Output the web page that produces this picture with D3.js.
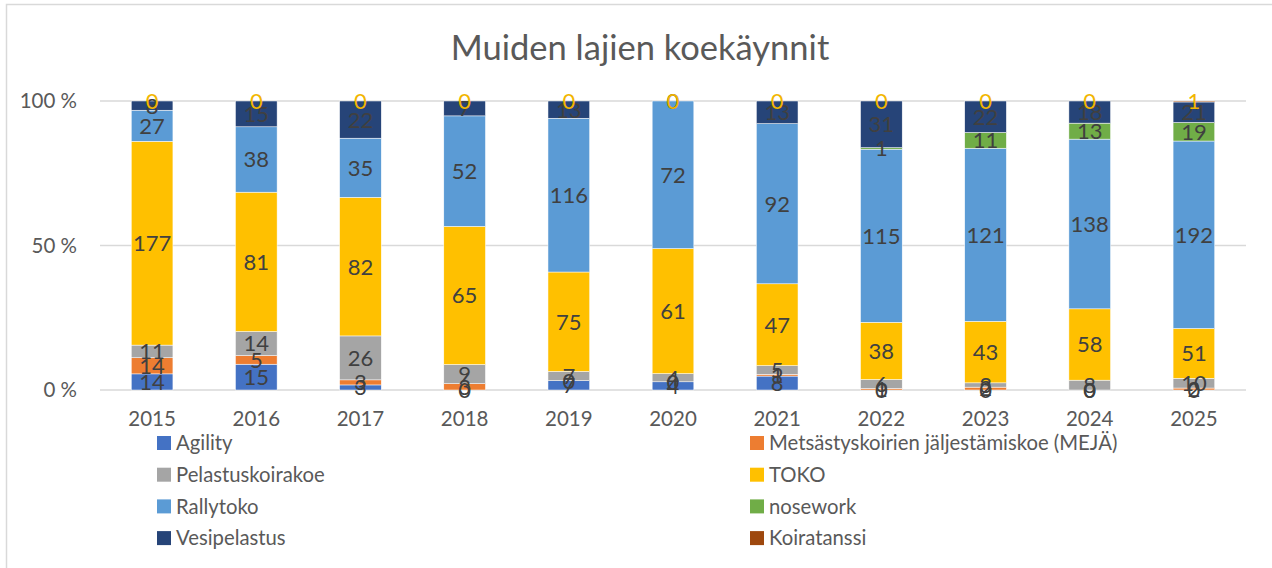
<!DOCTYPE html>
<html>
<head>
<meta charset="utf-8">
<script src="https://cdn.jsdelivr.net/npm/d3@7"></script>
<style>
  body { margin: 0; background: #fff; }
  text { font-family: Lato, "Noto Sans", sans-serif; }
</style>
</head>
<body>
<div id="chart"></div>
<script>
// chart data
var years = ["2015", "2016", "2017", "2018", "2019", "2020", "2021", "2022", "2023", "2024", "2025"];
var seriesNames = ["Agility", "Metsästyskoirien jäljestämiskoe (MEJÄ)", "Pelastuskoirakoe", "TOKO",
                   "Rallytoko", "nosework", "Vesipelastus", "Koiratanssi"];
var agility      = [14, 15, 3, 0, 7, 4, 8, 0, 0, 0, 0];
var meja         = [14, 5, 3, 3, 0, 0, 1, 1, 2, 0, 2];
var pelastus     = [11, 14, 26, 9, 7, 4, 5, 6, 3, 8, 10];
var toko         = [177, 81, 82, 65, 75, 61, 47, 38, 43, 58, 51];
var rallytoko    = [27, 38, 35, 52, 116, 72, 92, 115, 121, 138, 192];
var nosework     = [null, null, null, null, null, null, null, 1, 11, 13, 19];
var vesipelastus = [8, 15, 22, 7, 13, 0, 13, 31, 22, 18, 21];
var koiratanssi  = [0, 0, 0, 0, 0, 0, 0, 0, 0, 0, 1];
var yTicks = [0, 0.5, 1];

var seriesValues = [agility, meja, pelastus, toko, rallytoko, nosework, vesipelastus, koiratanssi];
var colors = ["#4472C4", "#ED7D31", "#A5A5A5", "#FFC000", "#5B9BD5", "#70AD47", "#264478", "#9E480E"];

var svgWidth = 1272;
var svgHeight = 568;
var margin = {top: 101, left: 100};
var chartWidth = 1146;
var chartHeight = 289;

var svg = d3.select("#chart")
  .append("svg")
    .attr("width", svgWidth)
    .attr("height", svgHeight);

// chart area border (only top & left visible in the crop)
svg.append("path")
  .attr("d", "M6.5," + svgHeight + "V4.5H" + svgWidth)
  .attr("fill", "none")
  .attr("stroke", "#D9D9D9")
  .attr("stroke-width", 1.5);

svg.append("text")
  .attr("x", 640)
  .attr("y", 60)
  .attr("text-anchor", "middle")
  .attr("font-size", "34.5px")
  .attr("fill", "#595959")
  .text("Muiden lajien koekäynnit");

var chartGroup = svg.append("g")
  .attr("transform", `translate(${margin.left}, ${margin.top})`);

// build rows + stack as percent
var rows = years.map(function(y, i) {
  var row = {year: y};
  seriesNames.forEach(function(s, j) { row[s] = seriesValues[j][i]; });
  return row;
});

var stacked = d3.stack()
  .keys(seriesNames)
  .value((d, key) => d[key] == null ? 0 : d[key])
  .offset(d3.stackOffsetExpand)(rows);

var x = d3.scaleBand()
  .domain(years)
  .range([0, chartWidth])
  .paddingInner(0.6)
  .paddingOuter(0.3);

var y = d3.scaleLinear()
  .domain([0, 1])
  .range([chartHeight, 0]);

// gridlines
chartGroup.selectAll(".grid")
  .data(yTicks)
  .enter()
  .append("line")
    .attr("x1", 0)
    .attr("x2", chartWidth)
    .attr("y1", d => y(d))
    .attr("y2", d => y(d))
    .attr("stroke", "#D9D9D9")
    .attr("stroke-width", 1.5);

var leftAxis = d3.axisLeft(y)
  .tickValues(yTicks)
  .tickSize(0)
  .tickPadding(23)
  .tickFormat(d => Math.round(d * 100) + " %");

var yAxisG = chartGroup.append("g").call(leftAxis);
yAxisG.select(".domain").remove();
yAxisG.selectAll("text")
  .attr("font-size", "20.5px")
  .attr("fill", "#595959")
  .style("font-family", "Lato, 'Noto Sans', sans-serif");

var bottomAxis = d3.axisBottom(x).tickSize(0).tickPadding(21);
var xAxisG = chartGroup.append("g")
  .attr("transform", `translate(0, ${chartHeight})`)
  .call(bottomAxis);
xAxisG.select(".domain").remove();
xAxisG.selectAll("text")
  .attr("font-size", "20.5px")
  .attr("fill", "#595959")
  .style("font-family", "Lato, 'Noto Sans', sans-serif");

// bars
var layers = chartGroup.selectAll(".layer")
  .data(stacked)
  .enter()
  .append("g")
    .attr("fill", (d, i) => colors[i]);

layers.selectAll("rect")
  .data(d => d)
  .enter()
  .append("rect")
    .attr("x", d => x(d.data.year))
    .attr("width", x.bandwidth())
    .attr("y", d => y(d[1]))
    .attr("height", d => y(d[0]) - y(d[1]))
    .attr("stroke", "#fff")
    .attr("stroke-width", 0.5);

// data labels, later series on top
stacked.forEach(function(layer, i) {
  var key = layer.key;
  chartGroup.append("g").selectAll("text")
    .data(layer.filter(d => d.data[key] != null))
    .enter()
    .append("text")
      .attr("x", d => x(d.data.year) + x.bandwidth() / 2)
      .attr("y", d => (y(d[0]) + y(d[1])) / 2)
      .attr("dy", "0.36em")
      .attr("text-anchor", "middle")
      .attr("font-size", "22px")
      .attr("fill", key == "Koiratanssi" ? "#F2B600" : "#404040")
      .text(d => d.data[key]);
});

// legend, two columns
var legend = svg.append("g");
var legendItems = legend.selectAll("g")
  .data(seriesNames)
  .enter()
  .append("g")
    .attr("transform", (d, i) => `translate(${i % 2 == 0 ? 157 : 750}, ${443 + Math.floor(i / 2) * 31.7})`);

legendItems.append("rect")
  .attr("x", 0)
  .attr("y", -7)
  .attr("width", 14)
  .attr("height", 14)
  .attr("fill", (d, i) => colors[i]);

legendItems.append("text")
  .attr("x", 19)
  .attr("dy", "0.36em")
  .attr("font-size", "20.3px")
  .attr("fill", "#595959")
  .text(d => d);
</script>
</body>
</html>
